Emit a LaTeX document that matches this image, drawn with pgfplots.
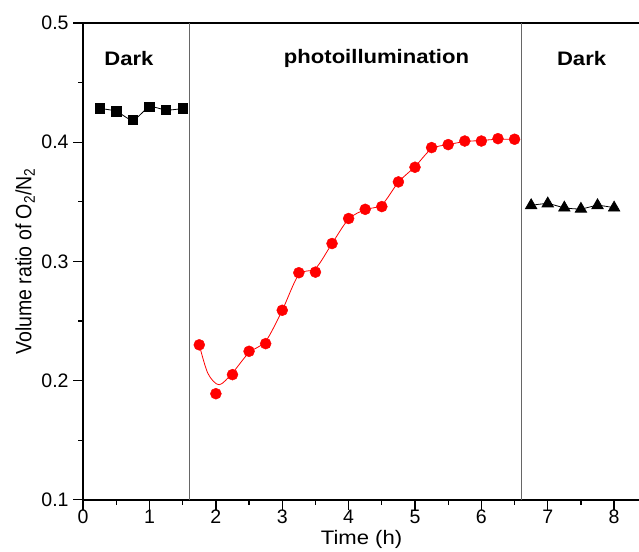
\documentclass[border=0pt]{standalone}
\usepackage{fontspec}
\setmainfont{Liberation Sans}[FakeStretch=1.13]
\newfontfamily\plainfont{Liberation Sans}
\usepackage{graphicx}
\usepackage{pgfplots}
\pgfplotsset{compat=1.18}
\begin{document}
\fontsize{19bp}{22bp}\selectfont
\begin{tikzpicture}
\begin{axis}[
  name=main,
  scale only axis,
  width=556bp, height=476bp,
  xmin=0, xmax=8.39, ymin=0.1, ymax=0.5,
  axis line style={line width=1.6bp},
  xtick={0,1,2,3,4,5,6,7,8}, minor xtick={0.5,1.5,2.5,3.5,4.5,5.5,6.5,7.5},
  ytick={0.1,0.2,0.3,0.4,0.5}, minor ytick={0.15,0.25,0.35,0.45},
  xtick pos=left, ytick pos=left,
  tick align=outside,
  major tick length=10bp, minor tick length=5bp,
  major tick style={line width=1.3bp, draw=black},
  minor tick style={line width=1.3bp, draw=black},
  /pgf/number format/assume math mode=true,
  yticklabel style={/pgf/number format/fixed, /pgf/number format/precision=1, /pgf/number format/fixed zerofill, xshift=2bp},
  xticklabel style={yshift=6bp},
  ticklabel style={font=\plainfont\fontsize{19.5bp}{22bp}\selectfont},
  xlabel={Time (h)},
  ylabel={\plainfont\scalebox{1}[1.13]{Volume ratio of O\textsubscript{2}/N\textsubscript{2}}},
  label style={font=\fontsize{19.5bp}{22bp}\selectfont},
  xlabel style={at={([yshift=-40bp]axis description cs:0.5,0)}, anchor=center},
  ylabel style={at={([xshift=-58bp]axis description cs:0,0.5)}, anchor=center},
  clip=false,
]
% major ticks (axis decoration)
\pgfplotsinvokeforeach{0,1,2,3,4,5,6,7,8}{\draw[line width=1.3bp] (axis cs:#1,0.1) -- ([yshift=-10bp]axis cs:#1,0.1);}
\pgfplotsinvokeforeach{0.1,0.2,0.3,0.4,0.5}{\draw[line width=1.3bp] (axis cs:0,#1) -- ([xshift=-10bp]axis cs:0,#1);}
% separators
\addplot[gray!80!black, line width=0.9bp] coordinates {(1.6,0.1) (1.6,0.5)};
\addplot[gray!80!black, line width=0.9bp] coordinates {(6.6,0.1) (6.6,0.5)};
% dark 1
\addplot[black, line width=0.8bp, smooth, tension=0.4, mark=square*, mark size=4.7bp, mark options={solid, fill=black}] coordinates {
(0.25,0.4283) (0.5,0.426) (0.75,0.4185) (1.0,0.4297) (1.25,0.4269) (1.5,0.4283)};
% fit curve
\addplot[red, line width=0.8bp, smooth, tension=0.5] coordinates {
(1.75,0.230) (1.88,0.206) (2.05,0.1965) (2.25,0.2065) (2.5,0.2235) (2.75,0.233) (3.0,0.259) (3.25,0.289) (3.5,0.294) (3.75,0.315) (4.0,0.3355) (4.25,0.3435) (4.5,0.3475) (4.75,0.3665) (5.0,0.3795) (5.25,0.3945) (5.5,0.398) (5.75,0.4005) (6.0,0.4015) (6.25,0.4025) (6.5,0.4025)};
% photo points
\addplot[only marks, mark=*, mark size=5.5bp, red, mark options={fill=red, draw=red}] coordinates {
(1.75,0.230) (2.0,0.189) (2.25,0.205) (2.5,0.2246) (2.75,0.231) (3.0,0.259) (3.25,0.2905) (3.5,0.291) (3.75,0.315) (4.0,0.336) (4.25,0.3437) (4.5,0.346) (4.75,0.3667) (5.0,0.379) (5.25,0.3955) (5.5,0.398) (5.75,0.401) (6.0,0.401) (6.25,0.403) (6.5,0.4025)};
% dark 2
\addplot[black, line width=0.8bp, smooth, tension=0.4, mark=triangle*, mark size=6.5bp, mark options={solid, fill=black}] coordinates {
(6.75,0.347) (7.0,0.3485) (7.25,0.345) (7.5,0.344) (7.75,0.347) (8.0,0.345)};
\node[font=\fontsize{19.5bp}{22bp}\selectfont\bfseries] at (axis cs:0.69,0.4706) {Dark};
\node[font=\fontsize{19.5bp}{22bp}\selectfont\bfseries] at (axis cs:4.42,0.4706) {photoillumination};
\node[font=\fontsize{19.5bp}{22bp}\selectfont\bfseries] at (axis cs:7.51,0.4706) {Dark};
\end{axis}
\pgfresetboundingbox
\path[use as bounding box] ([shift={(-83bp,-52bp)}]main.south west) rectangle ([shift={(-1bp,23bp)}]main.north east);
\end{tikzpicture}
\end{document}
